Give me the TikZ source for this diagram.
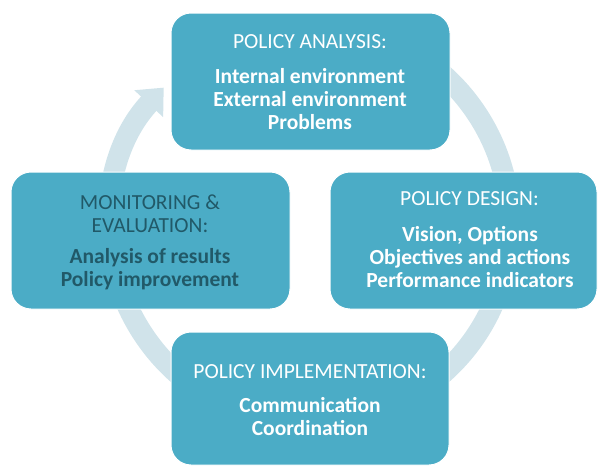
\documentclass[tikz,border=0pt]{standalone}
\usepackage{fontspec}
\setmainfont{Carlito}
\usetikzlibrary{arrows.meta}
\definecolor{boxc}{HTML}{4BACC6}
\definecolor{ringc}{HTML}{D0E3EA}
\definecolor{darktxt}{HTML}{215968}
\begin{document}
\begin{tikzpicture}[x=1pt,y=1pt,
  box/.style={fill=boxc, draw=white, line width=1pt, rounded corners=20pt, inner sep=0pt},
  head/.style={font=\fontsize{21.5}{23}\selectfont, text=white, align=center, inner sep=0pt},
  body/.style={font=\fontsize{21.5}{23}\selectfont\bfseries, text=white, align=center, inner sep=0pt},
  dark/.style={text=darktxt},
]
\useasboundingbox (0,0) rectangle (598,-466);
\coordinate (ctr) at (310,-224);
\draw[ringc, line width=21pt, -{Triangle[width=38pt,length=22pt]}]
  (ctr) ++(125:200) arc[start angle=485, end angle=137, radius=200];
\node[box, minimum width=279pt, minimum height=137pt] (A) at (310.5,-81.5) {};
\node[box, minimum width=279pt, minimum height=137pt] (M) at (150.5,-240.5) {};
\node[box, minimum width=267pt, minimum height=137pt] (D) at (463.5,-240.5) {};
\node[box, minimum width=278pt, minimum height=133pt] (I) at (310,-398.5) {};
\node[head] (Ah) at (310,-42) {POLICY ANALYSIS:};
\node[body] (Ab) at (310,-99) {Internal environment\\External environment\\Problems};
\node[head] (Dh) at (469.5,-199) {POLICY DESIGN:};
\node[body] (Db) at (470,-257) {Vision, Options\\Objectives and actions\\Performance indicators};
\node[head, dark] (Mh) at (150,-213.5) {MONITORING \&\\EVALUATION:};
\node[body, dark] (Mb) at (150,-269.5) {Analysis of results\\Policy improvement};
\node[head] (Ih) at (310,-372) {POLICY IMPLEMENTATION:};
\node[body] (Ib) at (310,-416.5) {Communication\\Coordination};
\end{tikzpicture}
\end{document}
